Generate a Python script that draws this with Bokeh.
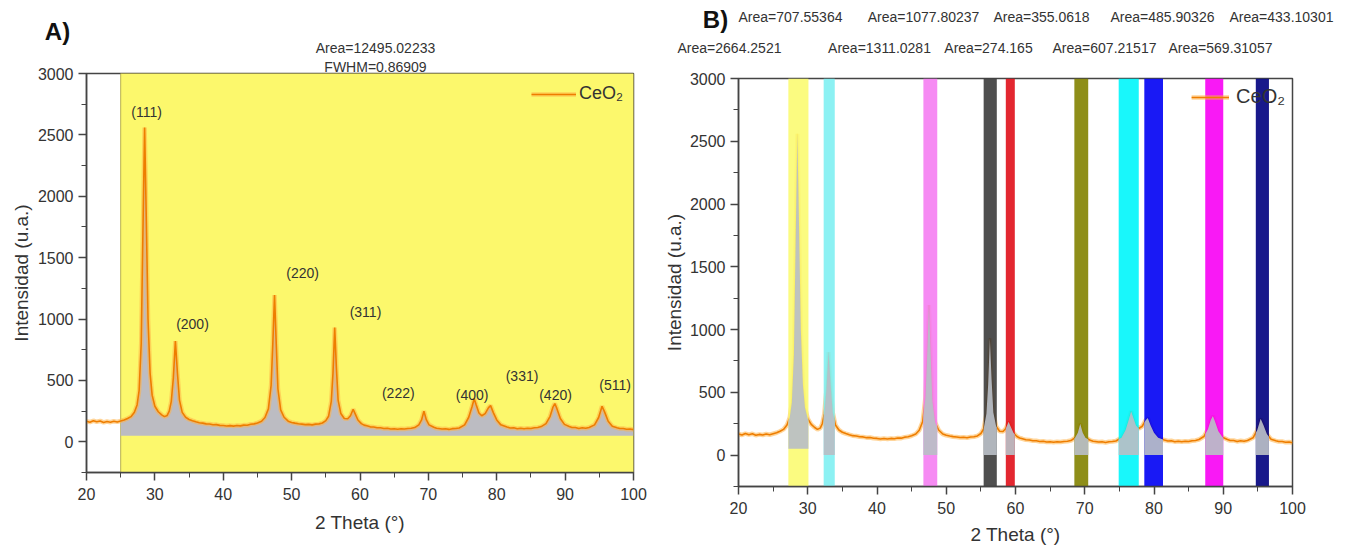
import numpy as np
from bokeh.plotting import figure
from bokeh.models import (Label, Legend, LegendItem, SingleIntervalTicker, Range1d)
from bokeh.core.properties import value
from bokeh.embed import file_html
from bokeh.resources import INLINE

# ---------------- data ----------------
two_theta = [20.0, 20.5, 21.0, 21.5, 22.0, 22.5, 23.0, 23.5, 24.0, 24.5, 25.0, 25.5, 26.0,
             26.5, 27.0, 27.4, 27.7, 28.0, 28.25, 28.5, 28.75, 29.0, 29.3, 29.6, 30.0, 30.5,
             31.0, 31.4, 31.8, 32.1, 32.4, 32.7, 33.0, 33.3, 33.6, 34.0, 34.5, 35.0, 35.5,
             36.0, 36.5, 37.0, 37.5, 38.0, 38.5, 39.0, 39.5, 40.0, 40.5, 41.0, 41.5, 42.0,
             42.5, 43.0, 43.5, 44.0, 44.5, 45.0, 45.6, 46.1, 46.6,
             47.0, 47.25, 47.5, 47.75, 48.0, 48.4, 48.9, 49.5, 50.0, 50.5, 51.0, 51.5, 52.0,
             52.5, 53.0, 53.5, 54.0, 54.5,
             55.0, 55.4, 55.8, 56.05, 56.3, 56.55, 56.8, 57.2, 57.7, 58.2, 58.6, 59.0, 59.3,
             59.7, 60.2, 60.6, 61.0, 61.5, 62.0, 62.5, 63.0, 63.5, 64.0, 64.5, 65.0, 65.5,
             66.0, 66.5, 67.0, 67.5, 68.0, 68.6, 69.0, 69.35,
             69.7, 70.1, 70.8, 71.2, 71.5, 72.0, 72.5, 73.0, 73.5, 74.0, 74.5, 75.3, 75.9,
             76.4, 76.7, 77.0, 77.4,
             77.8, 78.3, 78.8, 79.1, 79.5, 80.0, 80.6, 81.5, 82.0, 82.5, 83.0, 83.5, 84.0,
             84.5, 85.0, 85.5, 86.0, 86.5,
             87.2, 87.8, 88.2, 88.5, 88.8, 89.3, 89.9, 90.6, 91.0, 91.5, 92.0, 92.5, 93.0,
             93.5, 94.3, 94.9,
             95.4, 95.8, 96.3, 96.9, 97.6, 98.0, 98.5, 99.0, 99.5, 100.0]
intensity = [168, 160, 172, 163, 170, 158, 165, 160, 168, 162, 170, 178, 190,
             205, 240, 300, 420, 800, 1700, 2560, 1800, 1000, 560, 380, 290, 245,
             220, 205, 215, 250, 330, 520, 820, 560, 340, 240, 200, 182, 172,
             163, 155, 152, 146, 145, 139, 140, 134, 133, 129, 132, 128, 133,
             130, 136, 135, 143, 146, 154, 168, 198, 268,
             460, 800, 1195, 800, 430, 260, 200, 168, 158, 152, 147, 144, 140,
             142, 138, 144, 146, 153,
             172, 208, 330, 560, 930, 600, 340, 230, 190, 188, 212, 265, 228,
             178, 148, 136, 130, 122, 120, 114, 114, 109, 110, 104, 107, 102,
             106, 104, 109, 110, 116, 138, 178, 250,
             180, 138, 118, 110, 109, 104, 106, 101, 107, 108, 113, 138, 200,
             290, 350, 300, 235,
             212, 230, 278, 295, 238, 178, 138, 120, 113, 114, 107, 111, 106,
             110, 108, 114, 117, 124,
             148, 208, 280, 312, 270, 190, 142, 124, 116, 117, 109, 114, 110,
             117, 138, 198,
             290, 240, 168, 126, 114, 108, 109, 102, 104, 99]

peak_labels = ["(111)", "(200)", "(220)", "(311)", "(222)", "(400)", "(331)", "(420)", "(511)"]
peak_label_x = [28.8, 35.5, 51.6, 60.8, 65.6, 76.4, 83.7, 88.6, 97.3]
peak_label_y = [2690, 960, 1376, 1058, 397, 381, 536, 381, 463]

fit_a_texts = ["Area=12495.02233", "FWHM=0.86909"]

band_lo = [27.2, 32.3, 46.7, 55.4, 58.6, 68.5, 74.9, 78.6, 87.4, 94.7]
band_hi = [30.1, 33.9, 48.7, 57.3, 59.9, 70.5, 77.8, 81.3, 90.0, 96.6]
band_base = [50, 0, 0, 0, 0, 0, 0, 0, 0, 0]
band_colors = ["#fbfb72", "#7ff0f2", "#f57ef2", "#3c3c3c", "#e0101a",
               "#828200", "#00f6fb", "#0000f4", "#f800f4", "#00007e"]

area_row1 = ["Area=707.55364", "Area=1077.80237", "Area=355.0618", "Area=485.90326", "Area=433.10301"]
area_row2 = ["Area=2664.2521", "Area=1311.0281", "Area=274.165", "Area=607.21517", "Area=569.31057"]

legend_label = "CeO\u2082"

# ---------------- layout (pixels) ----------------
panel_left = [0, 660, 0, 660]            # page x of: plot A, plot B, header A, header B
HEADER_H = 80
fit_a_px = [(375, 47), (375, 66)]        # header A text centres
title_a_px = (57, 31)
area_row1_px = [130, 263, 381, 502, 621]  # header B text centres (x)
area_row2_px = [69, 219, 328, 444, 560]
area_rows_px_y = [16, 47]
title_b_px = (55, 19)

FONT = "Liberation Sans"
x = np.array(two_theta, dtype=float)
yv = np.array(intensity, dtype=float)


def base_fig(fw, fh, left, right, top, bottom, xstand, ystand):
    p = figure(frame_width=fw, frame_height=fh, x_range=Range1d(20, 100), y_range=Range1d(-250, 3000),
               output_backend="svg", toolbar_location=None,
               min_border_left=left, min_border_right=right,
               min_border_top=top, min_border_bottom=bottom,
               background_fill_color="white", border_fill_color="white")
    p.title.visible = False
    p.grid.visible = False
    p.outline_line_color = "#444444"
    p.outline_line_width = 1.5
    p.xaxis.ticker = SingleIntervalTicker(interval=10, num_minor_ticks=2)
    p.yaxis.ticker = SingleIntervalTicker(interval=500, num_minor_ticks=2)
    for ax in (p.xaxis[0], p.yaxis[0]):
        ax.axis_line_color = "#444444"
        ax.axis_line_width = 1.5
        ax.major_tick_line_color = "#444444"
        ax.minor_tick_line_color = "#444444"
        ax.major_tick_line_width = 1.5
        ax.major_tick_out = 8
        ax.major_tick_in = 0
        ax.minor_tick_out = 5
        ax.minor_tick_in = 0
        ax.major_label_text_font = FONT
        ax.major_label_text_font_size = "16px"
        ax.major_label_text_color = "#333333"
        ax.major_label_standoff = 5
        ax.axis_label_text_font = FONT
        ax.axis_label_text_font_size = "19px"
        ax.axis_label_text_font_style = "normal"
        ax.axis_label_text_color = "#333333"
    p.xaxis.major_label_standoff = 7
    p.xaxis.axis_label_standoff = xstand
    p.yaxis.axis_label_standoff = ystand
    p.xaxis.axis_label = "2 Theta (\u00b0)"
    p.yaxis.axis_label = "Intensidad (u.a.)"
    return p


def header_fig(width):
    h = figure(width=width, height=HEADER_H, x_range=Range1d(0, width), y_range=Range1d(HEADER_H, 0),
               x_axis_type=None, y_axis_type=None, output_backend="svg", toolbar_location=None,
               min_border=0, outline_line_color=None,
               background_fill_alpha=0, border_fill_alpha=0)
    h.title.visible = False
    h.grid.visible = False
    return h


def add_curve(p):
    glow = p.line(x, yv, line_color="#ffb347", line_width=4.5, line_alpha=0.55)
    core = p.line(x, yv, line_color="#ee7d00", line_width=1.6)
    return glow, core


# ---------------- panel A ----------------
pa = base_fig(547, 399, 86, 27, 73, 78, 9, 3)
pa.quad(left=[25], right=[100], bottom=[-250], top=[3000], fill_color="#fcf86c", line_color="#b8b050",
        line_width=1)
mA = x > 25
xa = np.concatenate([[25.0], x[mA]])
ya = np.concatenate([[np.interp(25.0, x, yv)], yv[mA]])
pa.varea(x=xa, y1=np.full_like(xa, 50.0), y2=ya, fill_color="#bcbcc2")
ga, ca = add_curve(pa)
for t, lx, ly in zip(peak_labels, peak_label_x, peak_label_y):
    pa.add_layout(Label(x=lx, y=ly, text=t, text_align="center", text_baseline="middle",
                        text_font=FONT, text_font_size="14px", text_color="#333333"))
leg_a = Legend(items=[LegendItem(label=legend_label, renderers=[ga, ca])], location="top_right",
               border_line_alpha=0, background_fill_alpha=0, label_text_font=FONT,
               label_text_font_size="18px", label_text_color="#333333", glyph_width=45,
               label_standoff=3, padding=0, margin=10)
pa.add_layout(leg_a)

# ---------------- panel B ----------------
pb = base_fig(554, 408, 78, 45, 78, 64, 7, 2)
gb, cb = add_curve(pb)
pb.quad(left=band_lo, right=band_hi, bottom=[-250] * len(band_lo), top=[3000] * len(band_lo),
        fill_color=band_colors, line_color=None, fill_alpha=0.9)
for lo, hi, b in zip(band_lo, band_hi, band_base):
    m = (x > lo) & (x < hi)
    xs = np.concatenate([[lo], x[m], [hi]])
    ys = np.concatenate([[np.interp(lo, x, yv)], yv[m], [np.interp(hi, x, yv)]])
    pb.varea(x=xs, y1=np.full_like(xs, float(b)), y2=ys, fill_color="#b9bec6", fill_alpha=0.92)
leg_b = Legend(items=[LegendItem(label=legend_label, renderers=[gb, cb])], location="top_right",
               border_line_alpha=0, background_fill_alpha=0, label_text_font=FONT,
               label_text_font_size="20px", label_text_color="#333333", glyph_width=38,
               label_standoff=7, padding=0, margin=7)
leg_b.level = "underlay"
pb.add_layout(leg_b)

# ---------------- headers (texts above the frames) ----------------
ha = header_fig(660)
ha.text(x=[p[0] for p in fit_a_px], y=[p[1] for p in fit_a_px], text=fit_a_texts,
        text_font=value(FONT), text_font_size=value("14px"), text_color="#333333",
        text_align="center", text_baseline="middle")
ha.text(x=[title_a_px[0]], y=[title_a_px[1]], text=["A)"], text_font=value(FONT),
        text_font_size=value("24px"), text_font_style="bold", text_color="#111111",
        text_align="center", text_baseline="middle")

hb = header_fig(677)
hb.text(x=area_row1_px, y=[area_rows_px_y[0]] * len(area_row1), text=area_row1,
        text_font=value(FONT), text_font_size=value("14px"), text_color="#333333",
        text_align="center", text_baseline="middle")
hb.text(x=area_row2_px, y=[area_rows_px_y[1]] * len(area_row2), text=area_row2,
        text_font=value(FONT), text_font_size=value("14px"), text_color="#333333",
        text_align="center", text_baseline="middle")
hb.text(x=[title_b_px[0]], y=[title_b_px[1]], text=["B)"], text_font=value(FONT),
        text_font_size=value("24px"), text_font_style="bold", text_color="#111111",
        text_align="center", text_baseline="middle")

TEMPLATE = """
{% block contents %}
<div style="position:relative;width:1345px;height:550px;overflow:hidden;">
{% for i in range(roots|length) %}
<div style="position:absolute;left:{{ panel_left[i] }}px;top:0px;">
{{ embed(roots[i]) }}
</div>
{% endfor %}
</div>
{% endblock %}
"""

html = file_html([pa, pb, ha, hb], INLINE, template=TEMPLATE,
                 template_variables={"panel_left": panel_left})
open("out.html", "w").write(html)
